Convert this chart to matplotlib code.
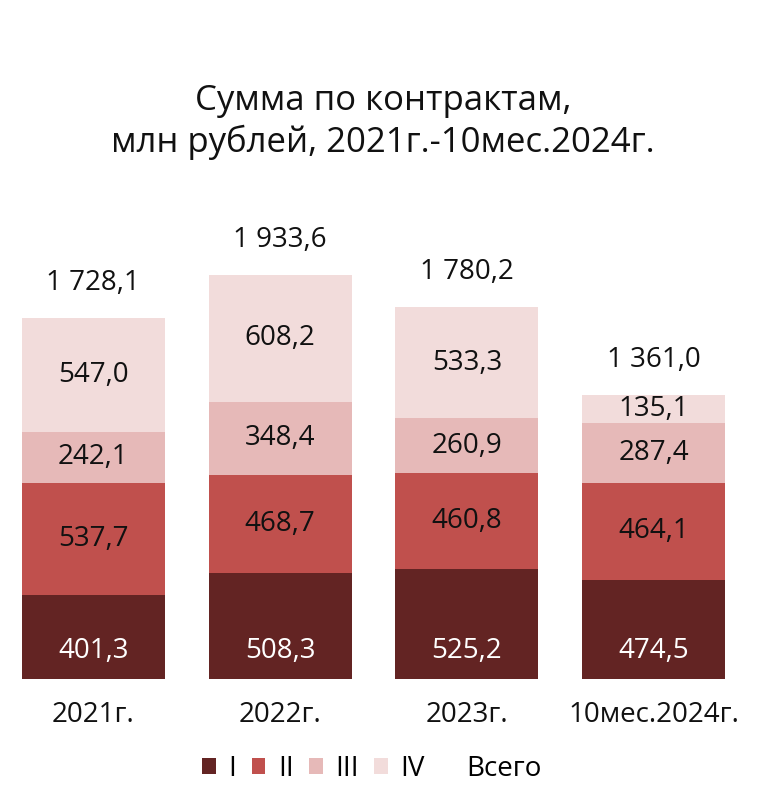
import matplotlib
matplotlib.use("Agg")
import matplotlib.pyplot as plt
from matplotlib.patches import Patch

plt.rcParams['font.family'] = ['Open Sans', 'DejaVu Sans']

categories = ["2021г.", "2022г.", "2023г.", "10мес.2024г."]
series_names = ["I", "II", "III", "IV"]
s1 = [401.3, 508.3, 525.2, 474.5]
s2 = [537.7, 468.7, 460.8, 464.1]
s3 = [242.1, 348.4, 260.9, 287.4]
s4 = [547.0, 608.2, 533.3, 135.1]
totals = [1728.1, 1933.6, 1780.2, 1361.0]
colors = ["#632423", "#C0504D", "#E6B9B8", "#F2DCDB"]
text_colors = ["white", "#111111", "#111111", "#111111"]

def fmt(v):
    s = f"{v:,.1f}".replace(",", " ").replace(".", ",")
    return s

FS = 20

fig = plt.figure(figsize=(7.77, 8.01), dpi=100)
ax = fig.add_axes([0.0, (801 - 679) / 801, 747 / 777, 418 / 801])

x = list(range(len(categories)))
width = 0.765
bottoms = [0.0] * len(categories)
for k, (vals, col, tc) in enumerate(zip([s1, s2, s3, s4], colors, text_colors)):
    ax.bar(x, vals, width=width, bottom=bottoms, color=col, edgecolor='none')
    for xi, v, b in zip(x, vals, bottoms):
        if k == 0:
            ax.annotate(fmt(v), xy=(xi, b), xytext=(0, 20), textcoords='offset points',
                        ha='center', va='center', fontsize=FS, color=tc)
        else:
            ax.text(xi, b + v / 2, fmt(v), ha='center', va='center', fontsize=FS, color=tc)
    bottoms = [b + v for b, v in zip(bottoms, vals)]

for xi, t in zip(x, totals):
    ax.annotate(fmt(t), xy=(xi, t), xytext=(0, 25), textcoords='offset points',
                ha='center', va='center', fontsize=FS, color='#111111')

ax.set_xlim(-0.5, 3.5)
ax.set_ylim(0, 2000)
ax.set_xticks(x)
ax.set_xticklabels(categories, fontsize=FS, color='#111111')
ax.tick_params(axis='x', length=0, pad=16)
ax.set_yticks([])
for sp in ax.spines.values():
    sp.set_visible(False)

fig.text(383 / 777, 1 - 122 / 801, "Сумма по контрактам,\nмлн рублей, 2021г.-10мес.2024г.",
         ha='center', va='center', fontsize=25, color='#111111', linespacing=1.27)

handles = [Patch(facecolor=c, edgecolor='none') for c in colors]
handles.append(Patch(facecolor='none', edgecolor='none'))
labels = series_names + ["Всего"]
fig.legend(handles, labels, loc='center', bbox_to_anchor=(372 / 777, 1 - 769 / 801), ncol=5,
           frameon=False, fontsize=FS, handlelength=0.5, handleheight=0.5,
           handletextpad=0.45, columnspacing=0.55)

fig.savefig("out.png", dpi=100, facecolor='white')
